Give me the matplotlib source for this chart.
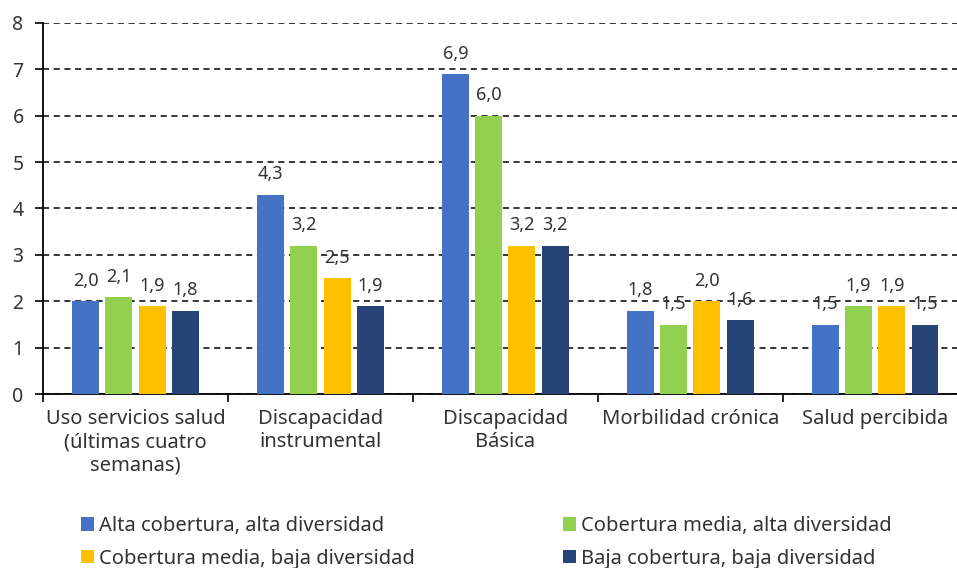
import numpy as np
import matplotlib.pyplot as plt
from matplotlib.ticker import FixedLocator

plt.rcParams['font.family'] = ['Noto Sans', 'DejaVu Sans']

categories = ["Uso servicios salud\n(últimas cuatro\nsemanas)",
              "Discapacidad\ninstrumental",
              "Discapacidad\nBásica",
              "Morbilidad crónica",
              "Salud percibida"]
series_names = ["Alta cobertura, alta diversidad",
                "Cobertura media, alta diversidad",
                "Cobertura media, baja diversidad",
                "Baja cobertura, baja diversidad"]
alta_alta = [2.0, 4.3, 6.9, 1.8, 1.5]
media_alta = [2.1, 3.2, 6.0, 1.5, 1.9]
media_baja = [1.9, 2.5, 3.2, 2.0, 1.9]
baja_baja = [1.8, 1.9, 3.2, 1.6, 1.5]
series = [alta_alta, media_alta, media_baja, baja_baja]
colors = ["#4472C4", "#92D050", "#FFC000", "#264478"]
text_color = "#333333"

fig = plt.figure(figsize=(9.57, 5.68), dpi=100)
ax = fig.add_axes([0.045, 0.306, 0.966, 0.654])

x = np.arange(len(categories))
width = 0.146
step = 0.18
handles = []
for i, (vals, col, name) in enumerate(zip(series, colors, series_names)):
    pos = x + (i - 1.5) * step
    b = ax.bar(pos, vals, width, color=col, label=name, zorder=3)
    handles.append(b)
    for px, v in zip(pos, vals):
        ax.annotate(f"{v:.1f}".replace(".", ","), (px, v), xytext=(0, 8),
                    textcoords="offset points", ha="center", va="bottom",
                    fontsize=13, color=text_color, zorder=4)

ax.set_xlim(-0.5, len(categories) - 0.5)
ax.set_ylim(0, 8)
ax.set_yticks(range(0, 9))
ax.yaxis.grid(True, linestyle=(0, (4, 3)), color="black", linewidth=1.1, zorder=0)
ax.set_axisbelow(True)

ax.set_xticks(x)
ax.set_xticklabels(categories, fontsize=14.5, color=text_color, linespacing=1.2)
ax.xaxis.set_minor_locator(FixedLocator(np.arange(-0.5, len(categories), 1.0)))
ax.tick_params(axis="x", which="major", length=0, pad=11)
ax.tick_params(axis="x", which="minor", length=6, width=1.2, color="black")
ax.tick_params(axis="y", length=6, width=1.2, labelsize=14, labelcolor=text_color, pad=8)

for s in ["top", "right"]:
    ax.spines[s].set_visible(False)
ax.spines["left"].set_linewidth(1.3)
ax.spines["bottom"].set_linewidth(1.3)

order = [0, 2, 1, 3]
fig.legend([handles[k] for k in order], [series_names[k] for k in order],
           ncol=2, loc="lower left", bbox_to_anchor=(0.066, -0.033),
           frameon=False, fontsize=14.5, handlelength=0.65, handleheight=0.65,
           handletextpad=0.25, columnspacing=7.35, labelspacing=0.62,
           labelcolor=text_color)

fig.savefig("out.png", dpi=100)
